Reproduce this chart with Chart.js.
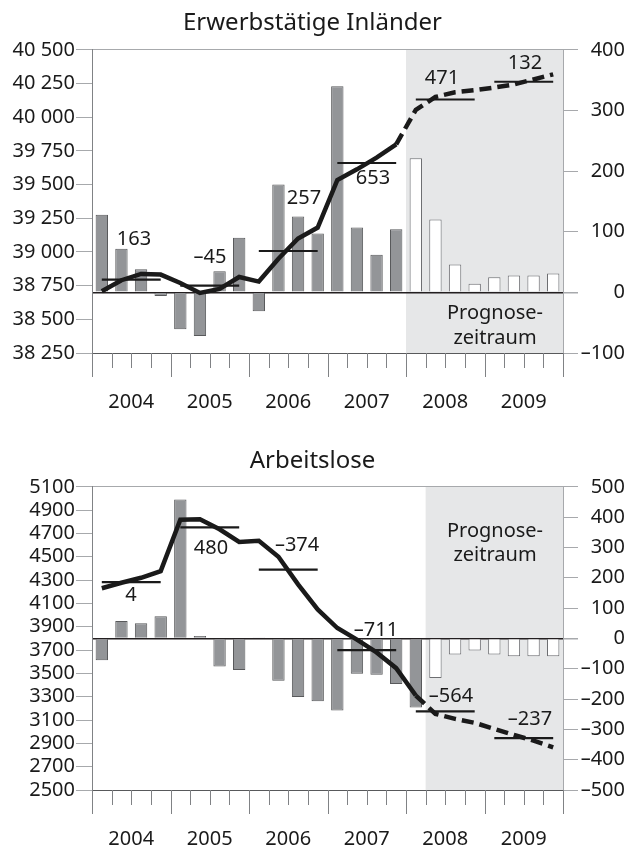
<!DOCTYPE html>
<html>
<head>
<meta charset="utf-8">
<script src="https://cdn.jsdelivr.net/npm/chart.js@4.4.1/dist/chart.umd.min.js"></script>
<style>
  body { margin: 0; background: #fff; }
  canvas { display: block; }
</style>
</head>
<body>
<canvas id="emp" width="628" height="425"></canvas>
<canvas id="unemp" width="628" height="425"></canvas>
<script>
// quarters 2004..2009
const quarters = [
  '2004 Q1', '2004 Q2', '2004 Q3', '2004 Q4',
  '2005 Q1', '2005 Q2', '2005 Q3', '2005 Q4',
  '2006 Q1', '2006 Q2', '2006 Q3', '2006 Q4',
  '2007 Q1', '2007 Q2', '2007 Q3', '2007 Q4',
  '2008 Q1', '2008 Q2', '2008 Q3', '2008 Q4',
  '2009 Q1', '2009 Q2', '2009 Q3', '2009 Q4'
];
const years = ['2004', '2005', '2006', '2007', '2008', '2009'];

// Erwerbstätige Inländer (Tsd.)
const empChange = [128, 72, 38, -6, -61, -72, 35, 90, -31, 178, 125, 97,
                   340, 107, 62, 104, 221, 120, 46, 14, 25, 28, 28, 31];
const empLevel = [38708, 38790, 38837, 38832, 38770, 38696, 38725, 38814,
                  38780, 38950, 39100, 39181, 39533, 39613, 39700, 39798,
                  40055, 40150, 40185, 40200, 40220, 40243, 40280, 40318];
const empAnnual = [38795, 38750, 39007, 39660, 40131, 40263];
const empAnnualChange = [163, -45, 257, 653, 471, 132];

// Arbeitslose (Tsd.)
const unempChange = [-72, 57, 50, 73, 458, 8, -93, -104, 3, -140, -193, -207,
                     -238, -117, -120, -150, -228, -131, -53, -40, -53, -59, -59, -59];
const unempLevel = [4230, 4277, 4320, 4377, 4817, 4822, 4736, 4627,
                    4637, 4500, 4263, 4048, 3889, 3789, 3680, 3545,
                    3310, 3153, 3110, 3076, 3024, 2972, 2923, 2866];
const unempAnnual = [4283, 4752, 4390, 3700, 3175, 2945];
const unempAnnualChange = [4, 480, -374, -711, -564, -237];

const ink = '#1a1a1a';
const fontFamily = "'Noto Sans', sans-serif";
Chart.defaults.font.family = fontFamily;
Chart.defaults.font.size = 20;
Chart.defaults.color = ink;

function dash(v) {
  return v < 0 ? '\u2013' + Math.abs(v) : String(v);
}
function thousands(v) {
  const s = String(v);
  return s.slice(0, s.length - 3) + ' ' + s.slice(-3);
}

const decor = {
  id: 'decor',
  beforeDraw(chart) {
    const c = chart.config.options.plugins.decor;
    const x = chart.scales.x, a = chart.chartArea, ctx = chart.ctx;
    const step = x.getPixelForValue(1) - x.getPixelForValue(0);
    const x0 = x.getPixelForValue(c.shadeFrom) - step / 2;
    ctx.save();
    ctx.fillStyle = '#e6e7e8';
    ctx.fillRect(x0, a.top, a.right - x0, a.bottom - a.top);
    ctx.restore();
  },
  afterDraw(chart) {
    const c = chart.config.options.plugins.decor;
    const x = chart.scales.x, y = chart.scales.y, a = chart.chartArea, ctx = chart.ctx;
    const step = x.getPixelForValue(1) - x.getPixelForValue(0);
    ctx.save();
    // quarter / year ticks below the axis
    ctx.strokeStyle = '#808285';
    ctx.lineWidth = 1;
    for (let k = 0; k <= quarters.length; k++) {
      const px = Math.round(x.getPixelForValue(0) + (k - 0.5) * step) + 0.5;
      ctx.beginPath();
      ctx.moveTo(px, a.bottom);
      ctx.lineTo(px, a.bottom + (k % 4 === 0 ? 24 : 15));
      ctx.stroke();
    }
    ctx.fillStyle = ink;
    ctx.font = '20px ' + fontFamily;
    ctx.textAlign = 'center';
    ctx.textBaseline = 'middle';
    years.forEach((yr, k) => {
      const px = x.getPixelForValue(k * 4) + 1.5 * step;
      ctx.fillText(yr, px, a.bottom + c.yearGap);
    });
    // annual change labels
    c.changes.forEach((v, k) => {
      const p = c.labelPos[k];
      const px = x.getPixelForValue(0) + p.q * step;
      const py = y.getPixelForValue(c.annual[k]) + p.dy;
      ctx.fillText(dash(v), px, py);
    });
    // forecast note
    const cx = a.right - 68;
    ctx.fillText('Prognose-', cx, c.noteY[0](a));
    ctx.fillText('zeitraum', cx, c.noteY[1](a));
    ctx.restore();
  }
};

function makeChart(id, cfg) {
  const barColors = cfg.change.map((v, i) => i >= cfg.whiteFrom ? '#ffffff' : '#939598');
  const barBorders = cfg.change.map((v, i) => i >= cfg.whiteFrom ? '#6d6e71' : '#58595b');
  const annualSets = years.map((yr, k) => ({
    type: 'line',
    data: quarters.map((q, i) => Math.floor(i / 4) === k ? cfg.annual[k] : null),
    yAxisID: 'y',
    borderColor: ink,
    borderWidth: 2.2,
    pointRadius: 0,
    spanGaps: false,
    order: 1
  }));
  return new Chart(document.getElementById(id), {
    type: 'bar',
    data: {
      labels: quarters,
      datasets: [
        {
          type: 'line',
          data: cfg.level,
          yAxisID: 'y',
          borderColor: ink,
          borderWidth: 4.5,
          pointRadius: 0,
          tension: 0,
          order: 0,
          segment: {
            borderDash: ctx => ctx.p0DataIndex >= cfg.dashFrom ? [12, 6] : undefined
          }
        },
        ...annualSets,
        {
          type: 'bar',
          data: cfg.change,
          yAxisID: 'y1',
          backgroundColor: barColors,
          borderColor: barBorders,
          borderWidth: 1,
          barPercentage: 0.63,
          categoryPercentage: 1,
          order: 2
        }
      ]
    },
    options: {
      responsive: false,
      animation: false,
      devicePixelRatio: 1,
      layout: { padding: { right: 3, left: 0, top: 0, bottom: 0 } },
      plugins: {
        legend: { display: false },
        tooltip: { enabled: false },
        title: {
          display: true,
          text: cfg.title,
          color: ink,
          font: { size: 24, weight: 'normal' },
          padding: cfg.titlePad
        },
        decor: {
          shadeFrom: cfg.shadeFrom,
          annual: cfg.annual,
          changes: cfg.annualChange,
          labelPos: cfg.labelPos,
          noteY: cfg.noteY,
          yearGap: cfg.yearGap
        }
      },
      scales: {
        x: {
          type: 'category',
          offset: true,
          grid: { display: false },
          ticks: { display: false },
          border: { color: '#58595b', width: 1 },
          afterFit: s => { s.height = cfg.xHeight; }
        },
        y: {
          position: 'left',
          min: cfg.left.min,
          max: cfg.left.max,
          ticks: { stepSize: cfg.left.step, autoSkip: false, padding: 1, callback: cfg.left.fmt },
          grid: {
            color: ctx => ctx.tick && ctx.tick.value === cfg.left.max ? '#a7a9ac' : 'transparent',
            tickColor: '#a7a9ac',
            tickLength: 16
          },
          border: { color: '#808285' },
          afterFit: s => { s.width = 92; }
        },
        y1: {
          position: 'right',
          min: cfg.right.min,
          max: cfg.right.max,
          ticks: { stepSize: cfg.right.step, autoSkip: false, padding: 0, crossAlign: 'far', callback: dash },
          grid: {
            color: ctx => ctx.tick && ctx.tick.value === 0 ? '#231f20' : 'transparent',
            lineWidth: ctx => ctx.tick && ctx.tick.value === 0 ? 1.5 : 1,
            tickColor: '#a7a9ac',
            tickLength: 15
          },
          border: { color: '#a7a9ac' },
          afterFit: s => { s.width = 62; }
        }
      }
    },
    plugins: [decor]
  });
}

makeChart('emp', {
  title: 'Erwerbstätige Inländer',
  titlePad: { top: 9, bottom: 12 },
  change: empChange,
  level: empLevel,
  annual: empAnnual,
  annualChange: empAnnualChange,
  labelPos: [
    { q: 1.64, dy: -40 }, { q: 5.51, dy: -28 }, { q: 10.3, dy: -53 },
    { q: 13.82, dy: 15 }, { q: 17.33, dy: -21 }, { q: 21.56, dy: -18 }
  ],
  whiteFrom: 16,
  shadeFrom: 16,
  dashFrom: 15,
  xHeight: 72,
  yearGap: 49,
  noteY: [a => a.bottom - 40, a => a.bottom - 15],
  left: { min: 38250, max: 40500, step: 250, fmt: thousands },
  right: { min: -100, max: 400, step: 100 }
});

makeChart('unemp', {
  title: 'Arbeitslose',
  titlePad: { top: 22, bottom: 11 },
  change: unempChange,
  level: unempLevel,
  annual: unempAnnual,
  annualChange: unempAnnualChange,
  labelPos: [
    { q: 1.49, dy: 13 }, { q: 5.56, dy: 21 }, { q: 9.95, dy: -24 },
    { q: 13.97, dy: -20 }, { q: 17.79, dy: -15 }, { q: 21.82, dy: -19 }
  ],
  whiteFrom: 17,
  shadeFrom: 17,
  dashFrom: 16,
  xHeight: 60,
  yearGap: 49,
  noteY: [a => a.top + 44, a => a.top + 68],
  left: { min: 2500, max: 5100, step: 200, fmt: v => String(v) },
  right: { min: -500, max: 500, step: 100 }
});
</script>
</body>
</html>
